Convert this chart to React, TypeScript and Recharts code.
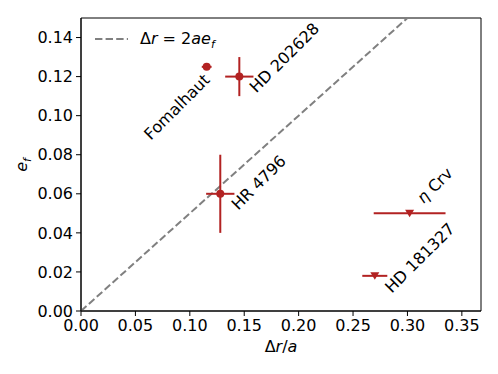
import React from 'react'
import {
  ScatterChart, Scatter, XAxis, YAxis, ErrorBar, ReferenceLine, ReferenceArea, Label,
} from 'recharts'

// measured discs
const circleNames = ['Fomalhaut', 'HD 202628', 'HR 4796']
const circleDr = [0.1155, 0.1455, 0.128]
const circleEf = [0.125, 0.12, 0.06]
const circleDrErr = [0.0045, 0.013, 0.013]
const circleEfErr = [0, 0.01, 0.02]

// upper limits
const limitNames = ['η Crv', 'HD 181327']
const limitDr = [0.302, 0.27]
const limitEf = [0.05, 0.018]
const limitDrErr = [0.033, 0.0115]
const limitEfErr = [0, 0]

const xTicks = [0, 0.05, 0.1, 0.15, 0.2, 0.25, 0.3, 0.35]
const yTicks = [0, 0.02, 0.04, 0.06, 0.08, 0.1, 0.12, 0.14]

const X_MAX = 0.3676
const Y_MAX = 0.15
const RED = '#b22222'
const FONT = '"DejaVu Sans", sans-serif'

const circleData = circleNames.map((name, i) => ({
  name, x: circleDr[i], y: circleEf[i], xerr: circleDrErr[i], yerr: circleEfErr[i],
}))
const limitData = limitNames.map((name, i) => ({
  name, x: limitDr[i], y: limitEf[i], xerr: limitDrErr[i], yerr: limitEfErr[i],
}))

// where each rotated label sits relative to its point
const LABEL_POS: Record<string, { anchor: 'start' | 'end'; dx: number; dy: number }> = {
  'Fomalhaut': { anchor: 'end', dx: 4, dy: 14 },
  'HD 202628': { anchor: 'start', dx: 17, dy: 17 },
  'HR 4796': { anchor: 'start', dx: 18, dy: 17 },
  'η Crv': { anchor: 'start', dx: 14, dy: -9 },
  'HD 181327': { anchor: 'start', dx: 17, dy: 18 },
}

function PointLabel({ cx, cy, name }: { cx: number; cy: number; name: string }) {
  const p = LABEL_POS[name]
  const x = cx + p.dx
  const y = cy + p.dy
  return (
    <text x={x} y={y} textAnchor={p.anchor} fontSize={16} fontFamily={FONT} fill="#000"
      transform={`rotate(-45 ${x} ${y})`}>
      {name.startsWith('η') ? <><tspan fontStyle="italic">η</tspan>{name.slice(1)}</> : name}
    </text>
  )
}

function CircleShape(props: any) {
  const { cx, cy, payload } = props
  return (
    <g>
      <circle cx={cx} cy={cy} r={4} fill={RED} />
      <PointLabel cx={cx} cy={cy} name={payload.name} />
    </g>
  )
}

function TriangleShape(props: any) {
  const { cx, cy, payload } = props
  return (
    <g>
      <path d={`M${cx - 4.5},${cy - 3.5} L${cx + 4.5},${cy - 3.5} L${cx},${cy + 4} Z`} fill={RED} />
      <PointLabel cx={cx} cy={cy} name={payload.name} />
    </g>
  )
}

function LegendBox() {
  return (
    <div style={{
      position: 'absolute', left: 94, top: 29, display: 'flex', alignItems: 'center',
      fontFamily: FONT, fontSize: 16, color: '#000', lineHeight: '20px',
    }}>
      <svg width={46} height={20}>
        <line x1={1} y1={10} x2={34} y2={10} stroke="#808080" strokeWidth={2} strokeDasharray="7.4 3.2" />
      </svg>
      <span>
        Δ<i>r</i> = 2<i>ae</i><sub style={{ fontSize: 11, fontStyle: 'italic', lineHeight: 0 }}>f</sub>
      </span>
    </div>
  )
}

export default function App() {
  return (
    <div style={{ position: 'absolute', left: 0, top: 0, width: 498, height: 374, background: '#fff' }}>
      <ScatterChart width={498} height={374} margin={{ top: 18, right: 17, bottom: 0, left: 0 }}>
        <XAxis
          type="number" dataKey="x" domain={[0, X_MAX]} ticks={xTicks} allowDataOverflow
          tickFormatter={(v: number) => v.toFixed(2)} height={63} tickSize={5} tickMargin={4}
          tick={{ fill: '#000', fontSize: 16, fontFamily: FONT }}
          axisLine={{ stroke: '#000' }} tickLine={{ stroke: '#000' }}
        >
          <Label content={() => (
            <text x={281} y={352} textAnchor="middle" fontSize={16} fontFamily={FONT} fill="#000">
              Δ<tspan fontStyle="italic">r</tspan>/<tspan fontStyle="italic">a</tspan>
            </text>
          )} />
        </XAxis>
        <YAxis
          type="number" dataKey="y" domain={[0, Y_MAX]} ticks={yTicks} allowDataOverflow
          tickFormatter={(v: number) => v.toFixed(2)} width={81} tickSize={5} tickMargin={3}
          tick={{ fill: '#000', fontSize: 16, fontFamily: FONT }}
          axisLine={{ stroke: '#000' }} tickLine={{ stroke: '#000' }}
        >
          <Label content={() => (
            <text x={27} y={165} textAnchor="middle" fontSize={16} fontFamily={FONT} fill="#000"
              transform="rotate(-90 27 165)">
              <tspan fontStyle="italic">e</tspan>
              <tspan fontStyle="italic" fontSize={11} dy={4}>f</tspan>
            </text>
          )} />
        </YAxis>
        <ReferenceArea x1={0} x2={X_MAX} y1={0} y2={Y_MAX} fill="none" stroke="#000" strokeWidth={1} />
        <ReferenceLine
          segment={[{ x: 0, y: 0 }, { x: 0.3, y: 0.15 }]}
          stroke="#808080" strokeWidth={2} strokeDasharray="7.4 3.2"
        />
        <Scatter data={circleData} shape={CircleShape} isAnimationActive={false}>
          <ErrorBar dataKey="xerr" direction="x" width={0} stroke={RED} strokeWidth={2} />
          <ErrorBar dataKey="yerr" direction="y" width={0} stroke={RED} strokeWidth={2} />
        </Scatter>
        <Scatter data={limitData} shape={TriangleShape} isAnimationActive={false}>
          <ErrorBar dataKey="xerr" direction="x" width={0} stroke={RED} strokeWidth={2} />
        </Scatter>
      </ScatterChart>
      <LegendBox />
    </div>
  )
}
